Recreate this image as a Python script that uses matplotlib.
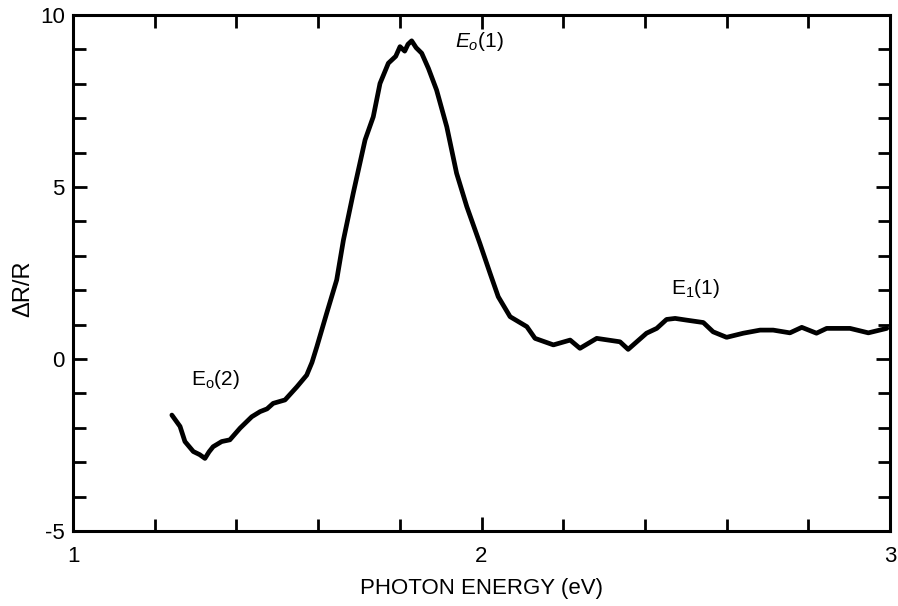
import matplotlib
matplotlib.use("Agg")
import matplotlib.pyplot as plt
from matplotlib.ticker import MultipleLocator, FixedLocator

plt.rcParams['font.family'] = ['Liberation Sans', 'DejaVu Sans']
plt.rcParams['axes.unicode_minus'] = False
plt.rcParams['mathtext.fontset'] = 'custom'
plt.rcParams['mathtext.rm'] = 'Liberation Sans'
plt.rcParams['mathtext.it'] = 'Liberation Sans:italic'

# Photon energy (eV) and dR/R
energy = [1.242, 1.262, 1.274, 1.2945, 1.310, 1.323, 1.333, 1.343, 1.364, 1.384,
          1.409, 1.4375, 1.458, 1.475, 1.490, 1.519, 1.548, 1.572, 1.585, 1.597,
          1.621, 1.6455, 1.662, 1.686, 1.715, 1.735, 1.7515, 1.772, 1.790, 1.8005,
          1.812, 1.820, 1.829, 1.840, 1.8536, 1.870, 1.890, 1.915, 1.939, 1.964,
          1.996, 2.021, 2.041, 2.070, 2.111, 2.131, 2.176, 2.217, 2.241, 2.282,
          2.339, 2.359, 2.404, 2.429, 2.453, 2.474, 2.502, 2.543, 2.567, 2.600,
          2.641, 2.682, 2.714, 2.755, 2.784, 2.820, 2.845, 2.902, 2.947, 2.992]
dr_r = [-1.63, -1.96, -2.40, -2.69, -2.78, -2.89, -2.70, -2.55, -2.40, -2.35,
        -2.01, -1.68, -1.53, -1.45, -1.29, -1.19, -0.81, -0.47, -0.10, 0.36,
        1.33, 2.30, 3.46, 4.82, 6.37, 7.04, 8.01, 8.60, 8.80, 9.08,
        8.95, 9.15, 9.25, 9.05, 8.89, 8.45, 7.82, 6.75, 5.40, 4.43,
        3.36, 2.49, 1.81, 1.23, 0.94, 0.60, 0.41, 0.55, 0.31, 0.60,
        0.50, 0.28, 0.75, 0.89, 1.15, 1.18, 1.13, 1.06, 0.79, 0.63,
        0.75, 0.84, 0.84, 0.76, 0.92, 0.75, 0.89, 0.89, 0.76, 0.89]

x_major = [1, 2, 3]
y_major = [-5, 0, 5, 10]

labels = [(r'$\mathrm{E_o(2)}$', 1.348, -0.61),
          (r'$\mathit{E_o(1)}$', 1.996, 9.22),
          (r'$\mathrm{E_1(1)}$', 2.523, 2.06)]

fig = plt.figure(figsize=(8.98, 6.06), dpi=100)
ax = fig.add_axes([0.0813, 0.1238, 0.9098, 0.8514])

ax.plot(energy, dr_r, color='black', lw=3.4, solid_joinstyle='round', solid_capstyle='round')

ax.set_xlim(1, 3)
ax.set_ylim(-5, 10)
ax.xaxis.set_major_locator(FixedLocator(x_major))
ax.yaxis.set_major_locator(FixedLocator(y_major))
ax.xaxis.set_minor_locator(MultipleLocator(0.2))
ax.yaxis.set_minor_locator(MultipleLocator(1))
ax.set_xticklabels([str(v) for v in x_major])
ax.set_yticklabels([str(v) for v in y_major])

ax.tick_params(which='both', direction='in', top=True, right=True, width=2.0, color='black')
ax.tick_params(which='major', length=10)
ax.tick_params(which='minor', length=9)
ax.tick_params(axis='x', which='major', labelsize=16, pad=11)
ax.tick_params(axis='y', which='major', labelsize=16, pad=6)
for s in ax.spines.values():
    s.set_linewidth(2.2)

ax.set_xlabel('PHOTON ENERGY (eV)', fontsize=16, labelpad=8)
ax.set_ylabel('ΔR/R', fontsize=17)
ax.yaxis.set_label_coords(-0.048, 0.47)

for txt, xx, yy in labels:
    ax.text(xx, yy, txt, fontsize=15, ha='center', va='center')

fig.savefig('out.png', dpi=100)
